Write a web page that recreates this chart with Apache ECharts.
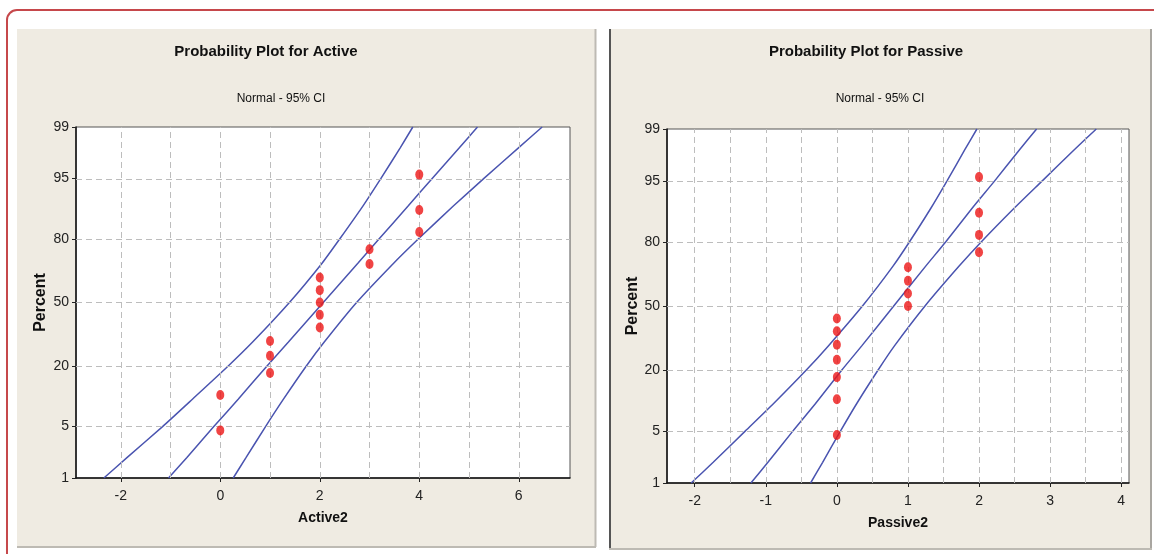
<!DOCTYPE html>
<html><head><meta charset="utf-8">
<script src="https://cdn.jsdelivr.net/npm/echarts@6/dist/echarts.min.js"></script>
<style>html,body{margin:0;padding:0;background:#fff}#c{width:1154px;height:554px}</style>
</head><body><div id="c"></div><script>
// ---- data ----
const percentTicks = [1, 5, 20, 50, 80, 95, 99];
const activeXTicks = [-2, 0, 2, 4, 6];
const activeXGrid = [-2, -1, 0, 1, 2, 3, 4, 5, 6];
const passiveXTicks = [-2, -1, 0, 1, 2, 3, 4];
const passiveXGrid = [-2, -1.5, -1, -0.5, 0, 0.5, 1, 1.5, 2, 2.5, 3, 3.5, 4];

const plotPercents = [4.5, 11.0, 17.5, 24.0, 30.5, 37.0, 43.5, 50.0, 56.5, 63.0, 69.5, 76.0, 82.5, 89.0, 95.5];
const activeValues = [0, 0, 1, 1, 1, 2, 2, 2, 2, 2, 3, 3, 4, 4, 4];
const passiveValues = [0, 0, 0, 0, 0, 0, 0, 1, 1, 1, 1, 2, 2, 2, 2];

const bandPercents = [1, 2, 5, 10, 20, 30, 50, 70, 80, 90, 95, 98, 99];
const activeFit   = [-1.04, -0.67, -0.13, 0.36, 0.94, 1.37, 2.07, 2.77, 3.19, 3.78, 4.26, 4.81, 5.17];
const activeLower = [-2.34, -1.87, -1.16, -0.56, 0.16, 0.65, 1.39, 2.05, 2.40, 2.87, 3.23, 3.62, 3.87];
const activeUpper = [0.26, 0.52, 0.91, 1.27, 1.73, 2.09, 2.74, 3.49, 3.98, 4.69, 5.30, 6.00, 6.47];
const passiveFit   = [-1.21, -0.97, -0.62, -0.30, 0.07, 0.35, 0.80, 1.25, 1.53, 1.90, 2.22, 2.57, 2.81];
const passiveLower = [-2.05, -1.74, -1.29, -0.89, -0.43, -0.12, 0.36, 0.79, 1.02, 1.32, 1.55, 1.80, 1.97];
const passiveUpper = [-0.37, -0.20, 0.05, 0.28, 0.58, 0.81, 1.24, 1.72, 2.03, 2.49, 2.89, 3.34, 3.65];

// ---- probability (normal) scale transform ----
function normInv(p){
  const a=[-3.969683028665376e+01,2.209460984245205e+02,-2.759285104469687e+02,1.383577518672690e+02,-3.066479806614716e+01,2.506628277459239e+00];
  const b=[-5.447609879822406e+01,1.615858368580409e+02,-1.556989798598866e+02,6.680131188771972e+01,-1.328068155288572e+01];
  const c=[-7.784894002430293e-03,-3.223964580411365e-01,-2.400758277161838e+00,-2.549671350536521e+00,4.374664141464968e+00,2.938163982698783e+00];
  const d=[7.784695709041462e-03,3.224671290700398e-01,2.445134137142996e+00,3.754408661907416e+00];
  const pl=0.02425, ph=1-pl; let q, r;
  if(p<pl){q=Math.sqrt(-2*Math.log(p));return (((((c[0]*q+c[1])*q+c[2])*q+c[3])*q+c[4])*q+c[5])/((((d[0]*q+d[1])*q+d[2])*q+d[3])*q+1);}
  if(p>ph){q=Math.sqrt(-2*Math.log(1-p));return -(((((c[0]*q+c[1])*q+c[2])*q+c[3])*q+c[4])*q+c[5])/((((d[0]*q+d[1])*q+d[2])*q+d[3])*q+1);}
  q=p-0.5; r=q*q;
  return (((((a[0]*r+a[1])*r+a[2])*r+a[3])*r+a[4])*r+a[5])*q/(((((b[0]*r+b[1])*r+b[2])*r+b[3])*r+b[4])*r+1);
}
const zOf = p => normInv(p / 100);
const zTicks = percentTicks.map(zOf);
const zMin = zOf(1), zMax = zOf(99);
const zInner = zTicks.slice(1, -1);
function zLabel(v){
  let best = 0, bd = 1e9;
  zTicks.forEach((z, i) => { const d = Math.abs(z - v); if (d < bd) { bd = d; best = i; } });
  return String(percentTicks[best]);
}

const FONT = "'Liberation Sans', Arial, sans-serif";
const LINE_COLOR = '#4A54B0';
const DOT_COLOR = '#EC1515';

function xAxis(idx, min, max, ticks, name, gap){
  return {
    gridIndex: idx, type: 'value', min: min, max: max,
    name: name, nameLocation: 'middle', nameGap: gap,
    nameTextStyle: {fontFamily: FONT, fontWeight: 'bold', fontSize: 14, color: '#111'},
    axisLine: {show: true, onZero: false, lineStyle: {color: '#111', width: 1.5}},
    axisTick: {show: true, customValues: ticks, length: 4, lineStyle: {color: '#222'}},
    axisLabel: {customValues: ticks, margin: 11, fontFamily: FONT, fontSize: 14, color: '#222',
                formatter: v => String(v)},
    splitLine: {show: false}
  };
}
function yAxis(idx, gap){
  return {
    gridIndex: idx, type: 'value', min: zMin, max: zMax,
    name: 'Percent', nameLocation: 'middle', nameGap: gap, nameRotate: 90,
    nameTextStyle: {fontFamily: FONT, fontWeight: 'bold', fontSize: 16, color: '#111'},
    axisLine: {show: true, onZero: false, lineStyle: {color: '#111', width: 1.5}},
    axisTick: {show: true, customValues: zTicks, length: 4, lineStyle: {color: '#222'}},
    axisLabel: {customValues: zTicks, margin: 7, fontFamily: FONT, fontSize: 14, color: '#222',
                formatter: zLabel},
    splitLine: {show: false}
  };
}
function gridSeries(idx, xs){
  return {
    type: 'scatter', xAxisIndex: idx, yAxisIndex: idx, data: [], z: 1, silent: true,
    markLine: {
      silent: true, symbol: 'none', animation: false, label: {show: false},
      lineStyle: {color: '#bdbdbd', type: [6, 4], width: 1},
      data: xs.map(v => ({xAxis: v})).concat(zInner.map(z => ({yAxis: z})))
    }
  };
}
function curve(idx, xs){
  return {
    type: 'line', xAxisIndex: idx, yAxisIndex: idx, showSymbol: false, smooth: 0.2, z: 3,
    lineStyle: {color: LINE_COLOR, width: 1.5},
    data: bandPercents.map((p, i) => [xs[i], zOf(p)])
  };
}
function dots(idx, vals){
  return {
    type: 'scatter', xAxisIndex: idx, yAxisIndex: idx, symbol: 'circle', symbolSize: [8, 10], z: 5,
    itemStyle: {color: DOT_COLOR},
    data: vals.map((v, i) => [v, zOf(plotPercents[i])])
  };
}
function titleAt(text, x, cy, size, bold){
  return {text: text, left: x, top: cy - size / 2, textAlign: 'center', padding: 0,
          textStyle: {fontFamily: FONT, fontSize: size, fontWeight: bold ? 'bold' : 'normal', color: '#111'}};
}

const chart = echarts.init(document.getElementById('c'), null, {renderer: 'canvas'});
chart.setOption({
  animation: false,
  backgroundColor: '#fff',
  graphic: [
    {type: 'rect', z: -10, shape: {x: 7, y: 10, width: 1400, height: 800, r: 10},
     style: {fill: '#fff', stroke: '#C6484B', lineWidth: 2}},
    {type: 'rect', z: -9, shape: {x: 17, y: 29, width: 579, height: 518}, style: {fill: '#EFEBE2'}},
    {type: 'line', z: -8, shape: {x1: 595.5, y1: 29, x2: 595.5, y2: 547}, style: {stroke: '#BDBAB3', lineWidth: 2}},
    {type: 'line', z: -8, shape: {x1: 17, y1: 547, x2: 596, y2: 547}, style: {stroke: '#BDBAB3', lineWidth: 2}},
    {type: 'rect', z: -9, shape: {x: 609, y: 29, width: 542, height: 520}, style: {fill: '#EFEBE2'}},
    {type: 'line', z: -8, shape: {x1: 610, y1: 29, x2: 610, y2: 550}, style: {stroke: '#555', lineWidth: 2}},
    {type: 'line', z: -8, shape: {x1: 1151, y1: 29, x2: 1151, y2: 550}, style: {stroke: '#A9A6A0', lineWidth: 2}},
    {type: 'line', z: -8, shape: {x1: 609, y1: 549, x2: 1152, y2: 549}, style: {stroke: '#BDBAB3', lineWidth: 2}}
  ],
  title: [
    titleAt('Probability Plot for Active', 266, 52, 15, true),
    titleAt('Normal - 95% CI', 281, 98.5, 12, false),
    titleAt('Probability Plot for Passive', 866, 52, 15, true),
    titleAt('Normal - 95% CI', 880, 98.5, 12, false)
  ],
  grid: [
    {left: 76, top: 127, width: 494, height: 351, show: true, backgroundColor: '#fff', borderColor: '#555', borderWidth: 1},
    {left: 667, top: 129, width: 462, height: 354, show: true, backgroundColor: '#fff', borderColor: '#555', borderWidth: 1}
  ],
  xAxis: [
    xAxis(0, -2.9, 7.03, activeXTicks, 'Active2', 33),
    xAxis(1, -2.39, 4.11, passiveXTicks, 'Passive2', 33)
  ],
  yAxis: [yAxis(0, 27), yAxis(1, 26)],
  series: [
    gridSeries(0, activeXGrid),
    gridSeries(1, passiveXGrid),
    curve(0, activeLower), curve(0, activeFit), curve(0, activeUpper),
    curve(1, passiveLower), curve(1, passiveFit), curve(1, passiveUpper),
    dots(0, activeValues),
    dots(1, passiveValues)
  ]
});
</script></body></html>
